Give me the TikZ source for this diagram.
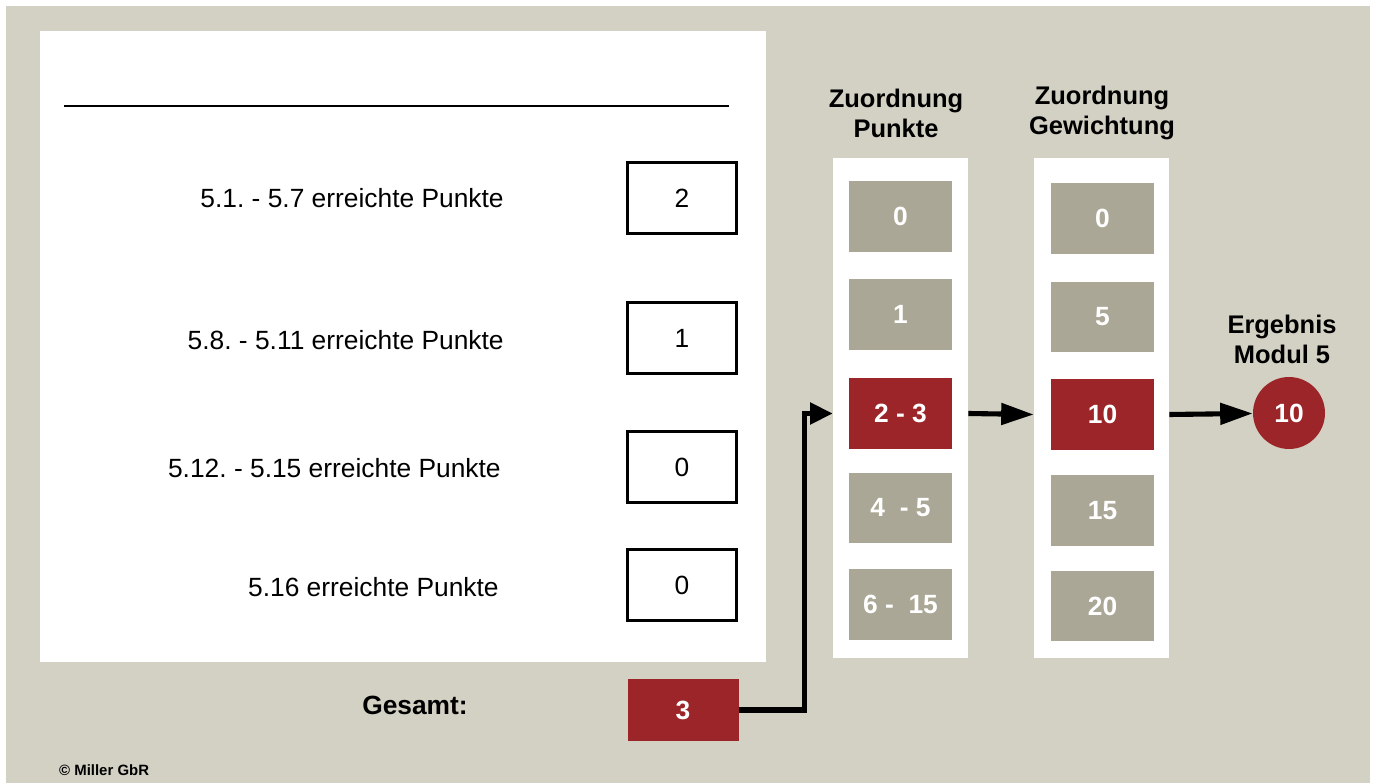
\documentclass[tikz,border=0pt]{standalone}
\usepackage{fontspec}
\setmainfont{Liberation Sans}
\frenchspacing
\usetikzlibrary{arrows.meta}
\definecolor{bgbeige}{RGB}{211,209,195}
\definecolor{boxgray}{RGB}{171,167,150}
\definecolor{boxred}{RGB}{155,37,40}

\begin{document}
\begin{tikzpicture}[x=0.02cm,y=-0.02cm,
    label text/.style={anchor=east,inner sep=0pt,font=\fontsize{15}{18}\selectfont},
    value box/.style={draw,line width=1.2pt,minimum width=2.18cm,minimum height=1.42cm,
                      font=\fontsize{15}{18}\selectfont},
    gray box/.style={fill=boxgray,text=white,minimum width=2.06cm,minimum height=1.42cm,
                     font=\bfseries\fontsize{15}{18}\selectfont},
    red box/.style={gray box,fill=boxred},
    column/.style={fill=white,minimum width=2.7cm,minimum height=10cm},
    head/.style={align=center,font=\bfseries\fontsize{14.5}{17}\selectfont},
    link/.style={-{Triangle[length=0.65cm,width=0.42cm]},line width=2.9pt}]

  % background and form sheet
  \fill[white] (0,0) rectangle (1375,783);
  \fill[bgbeige] (6,6) rectangle (1370,783);
  \fill[white] (40,31) rectangle (766,662);
  \draw[line width=1pt] (64,106) -- (729,106);

  % single results
  \node[label text] (l1) at (504,198) {5.1. - 5.7 erreichte Punkte};
  \node[label text] (l2) at (504,340) {5.8. - 5.11 erreichte Punkte};
  \node[label text] (l3) at (501,468) {5.12. - 5.15 erreichte Punkte};
  \node[label text] (l4) at (499,587) {5.16 erreichte Punkte};

  \node[value box] (v1) at (682,198) {2};
  \node[value box] (v2) at (682,338) {1};
  \node[value box] (v3) at (682,467) {0};
  \node[value box] (v4) at (682,585) {0};

  \node[font=\bfseries\fontsize{15}{18}\selectfont] (gesamt) at (415,705) {Gesamt:};
  \node[red box,minimum width=2.22cm,minimum height=1.26cm] (sum) at (683,710) {3};

  % column points
  \node[head] (hP) at (896,113) {Zuordnung\\Punkte};
  \node[column] (colP) at (900.5,408) {};
  \node[gray box] (p1) at (900.5,216.5) {0};
  \node[gray box] (p2) at (900.5,314.5) {1};
  \node[red box]  (p3) at (900.5,413.5) {2 - 3};
  \node[gray box] (p4) at (900.5,508) {4\ \ - 5};
  \node[gray box] (p5) at (900.5,604.5) {6 -\ \ 15};

  % column weighting
  \node[head] (hW) at (1102,113) {Zuordnung\\Gewichtung};
  \node[column] (colW) at (1101.5,408) {};
  \node[gray box] (w1) at (1102.5,218.5) {0};
  \node[gray box] (w2) at (1102.5,317) {5};
  \node[red box]  (w3) at (1102.5,414.5) {10};
  \node[gray box] (w4) at (1102.5,510.5) {15};
  \node[gray box] (w5) at (1102.5,606) {20};

  % result
  \node[head] (hR) at (1282,339) {Ergebnis\\Modul 5};
  \node[circle,fill=boxred,text=white,minimum size=1.44cm,
        font=\bfseries\fontsize{15}{18}\selectfont] (result) at (1289,413) {10};

  \draw[link,-{Triangle[length=0.45cm,width=0.42cm]}] (sum.east) -- ++(66,0) |- (colP.west |- p3);
  \draw[link] (colP.east |- p3) -- (colW.west |- w3);
  \draw[link] (colW.east |- w3) -- (result);

  \node[anchor=west,font=\bfseries\fontsize{8.5}{10}\selectfont] (copy) at (53,770) {© Miller GbR};
\end{tikzpicture}
\end{document}
